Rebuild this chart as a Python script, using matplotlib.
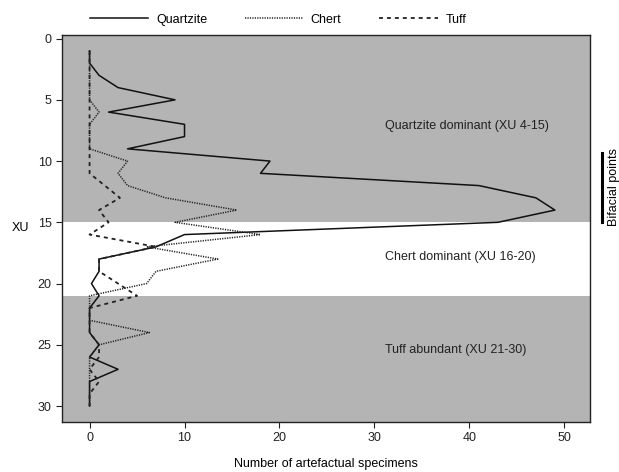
import numpy as np
import matplotlib
matplotlib.use("Agg")
import matplotlib.pyplot as plt

plt.rcParams.update({
    "font.family": ["Liberation Sans", "DejaVu Sans"],
    "font.size": 9,
})

# ── DATA ───────────────────────────────────────────────────────────────────────
xu = list(range(1, 31))
quartzite = [0, 0, 1, 3, 9, 2, 10, 10, 4, 19, 18, 41, 47, 49, 43,
             10, 7, 1, 1, 0.2, 1, 0, 0, 0, 1, 0, 3, 0, 0, 0]
chert = [0, 0, 0, 0, 0, 1, 0, 0, 0, 4, 3, 4, 8, 15.5, 9,
         18, 6, 13.5, 7, 6, 0, 0, 0, 6.3, 1, 0, 0, 0, 0, 0]
tuff = [0, 0, 0, 0, 0, 0, 0, 0, 0, 0, 0, 1.6, 3.2, 1, 2,
        0, 7, 1, 1, 3, 5, 0, 0, 0, 1, 1, 0, 1, 0, 0]

zones = [(-1, 15, "#b4b4b4"), (15, 21, "white"), (21, 32, "#b4b4b4")]
zone_labels = [("Quartzite dominant (XU 4-15)", 7.1),
               ("Chert dominant (XU 16-20)", 17.8),
               ("Tuff abundant (XU 21-30)", 25.4)]
bifacial = (9.3, 15.0)

# ── PLOT ───────────────────────────────────────────────────────────────────────
fig = plt.figure(figsize=(6.19, 4.72), dpi=100)
ax = fig.add_axes([0.1002, 0.106, 0.853, 0.820])

for y0, y1, c in zones:
    ax.axhspan(y0, y1, color=c, lw=0, zorder=0)

ax.plot(quartzite, xu, color="#111111", lw=1.1, ls="-", label="Quartzite", zorder=3)
ax.plot(chert, xu, color="#222222", lw=1.1, ls=(0, (0.8, 0.8)), label="Chert", zorder=3)
ax.plot(tuff, xu, color="#222222", lw=1.3, ls=(0, (2.2, 2.2)), label="Tuff", zorder=3)

for txt, y in zone_labels:
    ax.text(31.1, y, txt, va="center", ha="left", fontsize=9, color="#222222")

ax.set_xlim(-2.9, 52.7)
ax.set_ylim(31.3, -0.3)
ax.set_xticks(range(0, 51, 10))
ax.set_yticks(range(0, 31, 5))
ax.tick_params(direction="out", length=4, width=0.8, colors="#222222")
for s in ax.spines.values():
    s.set_linewidth(1.0)
    s.set_color("#222222")

ax.set_xlabel("Number of artefactual specimens", fontsize=9, labelpad=10)
ax.set_ylabel("XU", rotation=0, fontsize=9, labelpad=12, va="center")

# bifacial points bar outside the axes
ax.plot([54.0, 54.0], bifacial, color="black", lw=2.2, clip_on=False, zorder=4)
ax.text(55.2, sum(bifacial) / 2, "Bifacial points", rotation=90,
        va="center", ha="center", fontsize=9, clip_on=False)

fig.legend(loc="upper center", bbox_to_anchor=(0.449, 0.995), ncol=3, frameon=False,
           handlelength=4.7, handletextpad=0.6, columnspacing=3.0, fontsize=9)

plt.savefig("out.png", dpi=100)
